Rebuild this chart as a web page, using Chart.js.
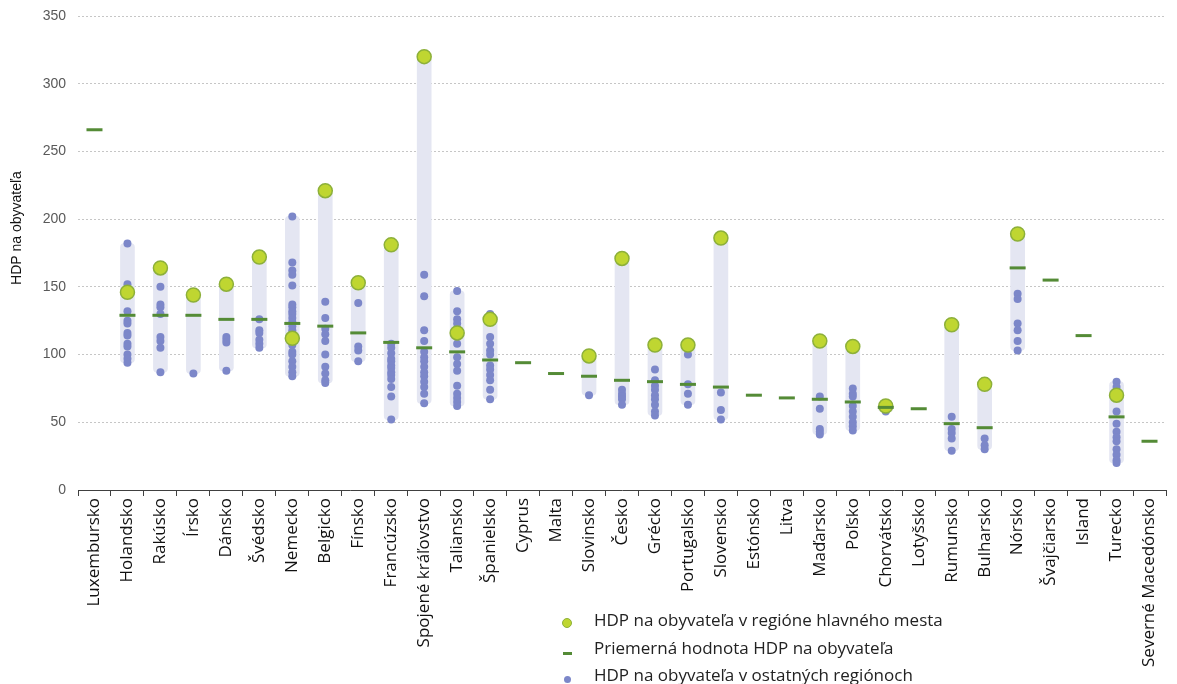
<!DOCTYPE html>
<html>
<head>
<meta charset="utf-8">
<script src="https://cdn.jsdelivr.net/npm/chart.js@4.4.1/dist/chart.umd.min.js"></script>
<style>
  body { margin: 0; background: #fff; }
  #wrap { position: relative; width: 1177px; height: 684px; }
  #legend { position: absolute; left: 560px; top: 606px; font-family: "Open Sans", sans-serif; font-size: 17px; color: #222; }
  #legend div { height: 27.5px; line-height: 27.5px; white-space: nowrap; }
  #legend span.m { display: inline-block; width: 14px; margin-right: 20px; text-align: center; vertical-align: middle; }
  .cap { display: inline-block; width: 8px; height: 8px; border-radius: 50%; background: #BFD631; border: 1px solid #8DB03A; }
  .avg { display: inline-block; width: 9px; height: 3px; background: #548B36; }
  .oth { display: inline-block; width: 7px; height: 7px; border-radius: 50%; background: #7C87C9; }
</style>
</head>
<body>
<div id="wrap">
  <canvas id="chart"></canvas>
  <div id="legend">
    <div><span class="m"><i class="cap"></i></span>HDP na obyvateľa v regióne hlavného mesta</div>
    <div><span class="m"><i class="avg"></i></span>Priemerná hodnota HDP na obyvateľa</div>
    <div><span class="m"><i class="oth"></i></span>HDP na obyvateľa v ostatných regiónoch</div>
  </div>
</div>
<script>
const countries = ['Luxembursko', 'Holandsko', 'Rakúsko', 'Írsko', 'Dánsko', 'Švédsko', 'Nemecko', 'Belgicko',
  'Fínsko', 'Francúzsko', 'Spojené kráľovstvo', 'Taliansko', 'Španielsko', 'Cyprus', 'Malta', 'Slovinsko',
  'Česko', 'Grécko', 'Portugalsko', 'Slovensko', 'Estónsko', 'Litva', 'Maďarsko', 'Poľsko', 'Chorvátsko',
  'Lotyšsko', 'Rumunsko', 'Bulharsko', 'Nórsko', 'Švajčiarsko', 'Island', 'Turecko', 'Severné Macedónsko'];

// priemer za krajinu
const averages = [266, 129, 129, 129, 126, 126, 123, 121, 116, 109, 105, 102, 96, 94, 86, 84,
  81, 80, 78, 76, 70, 68, 67, 65, 61, 60, 49, 46, 164, 155, 114, 54, 36];

// región hlavného mesta
const capitals = [null, 146, 164, 144, 152, 172, 112, 221, 153, 181, 320, 116, 126, null, null, 99,
  171, 107, 107, 186, null, null, 110, 106, 62, null, 122, 78, 189, null, null, 70, null];

// ostatné regióny
const others = [
  [],
  [182, 152, 132, 125, 123, 116, 114, 108, 106, 100, 97, 94],
  [150, 137, 135, 130, 113, 110, 105, 87],
  [86],
  [113, 111, 109, 88],
  [126, 118, 116, 111, 108, 105],
  [202, 168, 162, 159, 151, 137, 135, 132, 130, 127, 124, 121, 118, 116, 109, 107, 102, 100, 95, 91, 87, 84],
  [139, 127, 119, 115, 110, 100, 91, 86, 81, 79],
  [138, 106, 103, 95],
  [108, 105, 101, 97, 95, 92, 90, 87, 85, 82, 76, 69, 52],
  [159, 143, 118, 110, 102, 98, 95, 91, 87, 84, 80, 76, 71, 64],
  [147, 132, 126, 123, 119, 108, 98, 93, 88, 77, 71, 68, 65, 62],
  [130, 127, 113, 108, 103, 100, 92, 89, 85, 81, 74, 67],
  [],
  [],
  [70],
  [74, 71, 69, 67, 63],
  [89, 81, 77, 74, 70, 67, 63, 58, 55],
  [100, 78, 71, 63],
  [72, 59, 52],
  [],
  [],
  [69, 60, 45, 43, 41],
  [75, 71, 69, 62, 58, 54, 50, 47, 44],
  [58],
  [],
  [54, 45, 42, 38, 29],
  [38, 33, 30],
  [145, 141, 123, 118, 110, 103],
  [],
  [],
  [80, 76, 68, 58, 49, 43, 39, 36, 30, 26, 22, 20],
  []
];

const yTitle = 'HDP na obyvateľa';

const ranges = countries.map((c, i) => {
  const vals = others[i].concat(capitals[i] === null ? [] : [capitals[i]]);
  if (vals.length < 2) return null;
  return [Math.min(...vals), Math.max(...vals)];
});

const otherPoints = [];
others.forEach((list, i) => list.forEach(v => otherPoints.push({ x: countries[i], y: v })));

// y-axis title sits a bit above the middle in the original, so draw it by hand
const yTitlePlugin = {
  id: 'yTitle',
  afterDraw(chart) {
    const ctx = chart.ctx;
    ctx.save();
    ctx.translate(17, 228);
    ctx.rotate(-Math.PI / 2);
    ctx.font = '14px "Liberation Sans"';
    ctx.fillStyle = '#111';
    ctx.textAlign = 'center';
    ctx.textBaseline = 'middle';
    ctx.fillText(yTitle, 0, 0);
    ctx.restore();
  }
};

new Chart(document.getElementById('chart'), {
  type: 'bar',
  data: {
    labels: countries,
    datasets: [
      {
        type: 'line',
        label: 'Priemerná hodnota HDP na obyvateľa',
        data: averages,
        showLine: false,
        pointStyle: 'line',
        pointRadius: 8,
        pointBorderWidth: 3,
        pointBorderColor: '#548B36',
        order: 1
      },
      {
        type: 'line',
        label: 'HDP na obyvateľa v regióne hlavného mesta',
        data: capitals,
        showLine: false,
        pointRadius: 7,
        pointBackgroundColor: '#BFD631',
        pointBorderColor: '#8DB03A',
        pointBorderWidth: 1.5,
        order: 2
      },
      {
        type: 'line',
        label: 'HDP na obyvateľa v ostatných regiónoch',
        data: otherPoints,
        showLine: false,
        pointRadius: 4,
        pointBackgroundColor: '#7C87C9',
        pointBorderWidth: 0,
        order: 3
      },
      {
        label: 'rozpätie',
        data: ranges,
        backgroundColor: '#E4E6F2',
        barThickness: 14,
        borderRadius: 4,
        borderSkipped: false,
        order: 4
      }
    ]
  },
  options: {
    responsive: true,
    maintainAspectRatio: false,
    animation: false,
    layout: { padding: { top: 16, left: 0, right: 0, bottom: 0 } },
    plugins: { legend: { display: false }, tooltip: { enabled: false } },
    scales: {
      x: {
        offset: true,
        grid: { offset: true, drawOnChartArea: false, drawTicks: true, tickLength: 6, color: '#404040' },
        border: { display: true, color: '#404040', width: 1 },
        ticks: {
          autoSkip: false, minRotation: 90, maxRotation: 90, padding: 2,
          color: '#111', font: { family: 'Open Sans', size: 17 }
        },
        afterFit: s => { s.height = 194; }
      },
      y: {
        min: 0, max: 350,
        ticks: { stepSize: 50, padding: 12, color: '#595959', font: { family: 'Liberation Sans', size: 14 } },
        grid: {
          drawTicks: false,
          color: ctx => ctx.tick.value === 0 ? 'rgba(0,0,0,0)' : '#C6C6C6'
        },
        border: { display: false, dash: [2, 2] },
        afterFit: s => { s.width = 78; s.paddingTop = 0; s.paddingBottom = 0; }
      }
    }
  },
  plugins: [yTitlePlugin]
});
</script>
</body>
</html>
